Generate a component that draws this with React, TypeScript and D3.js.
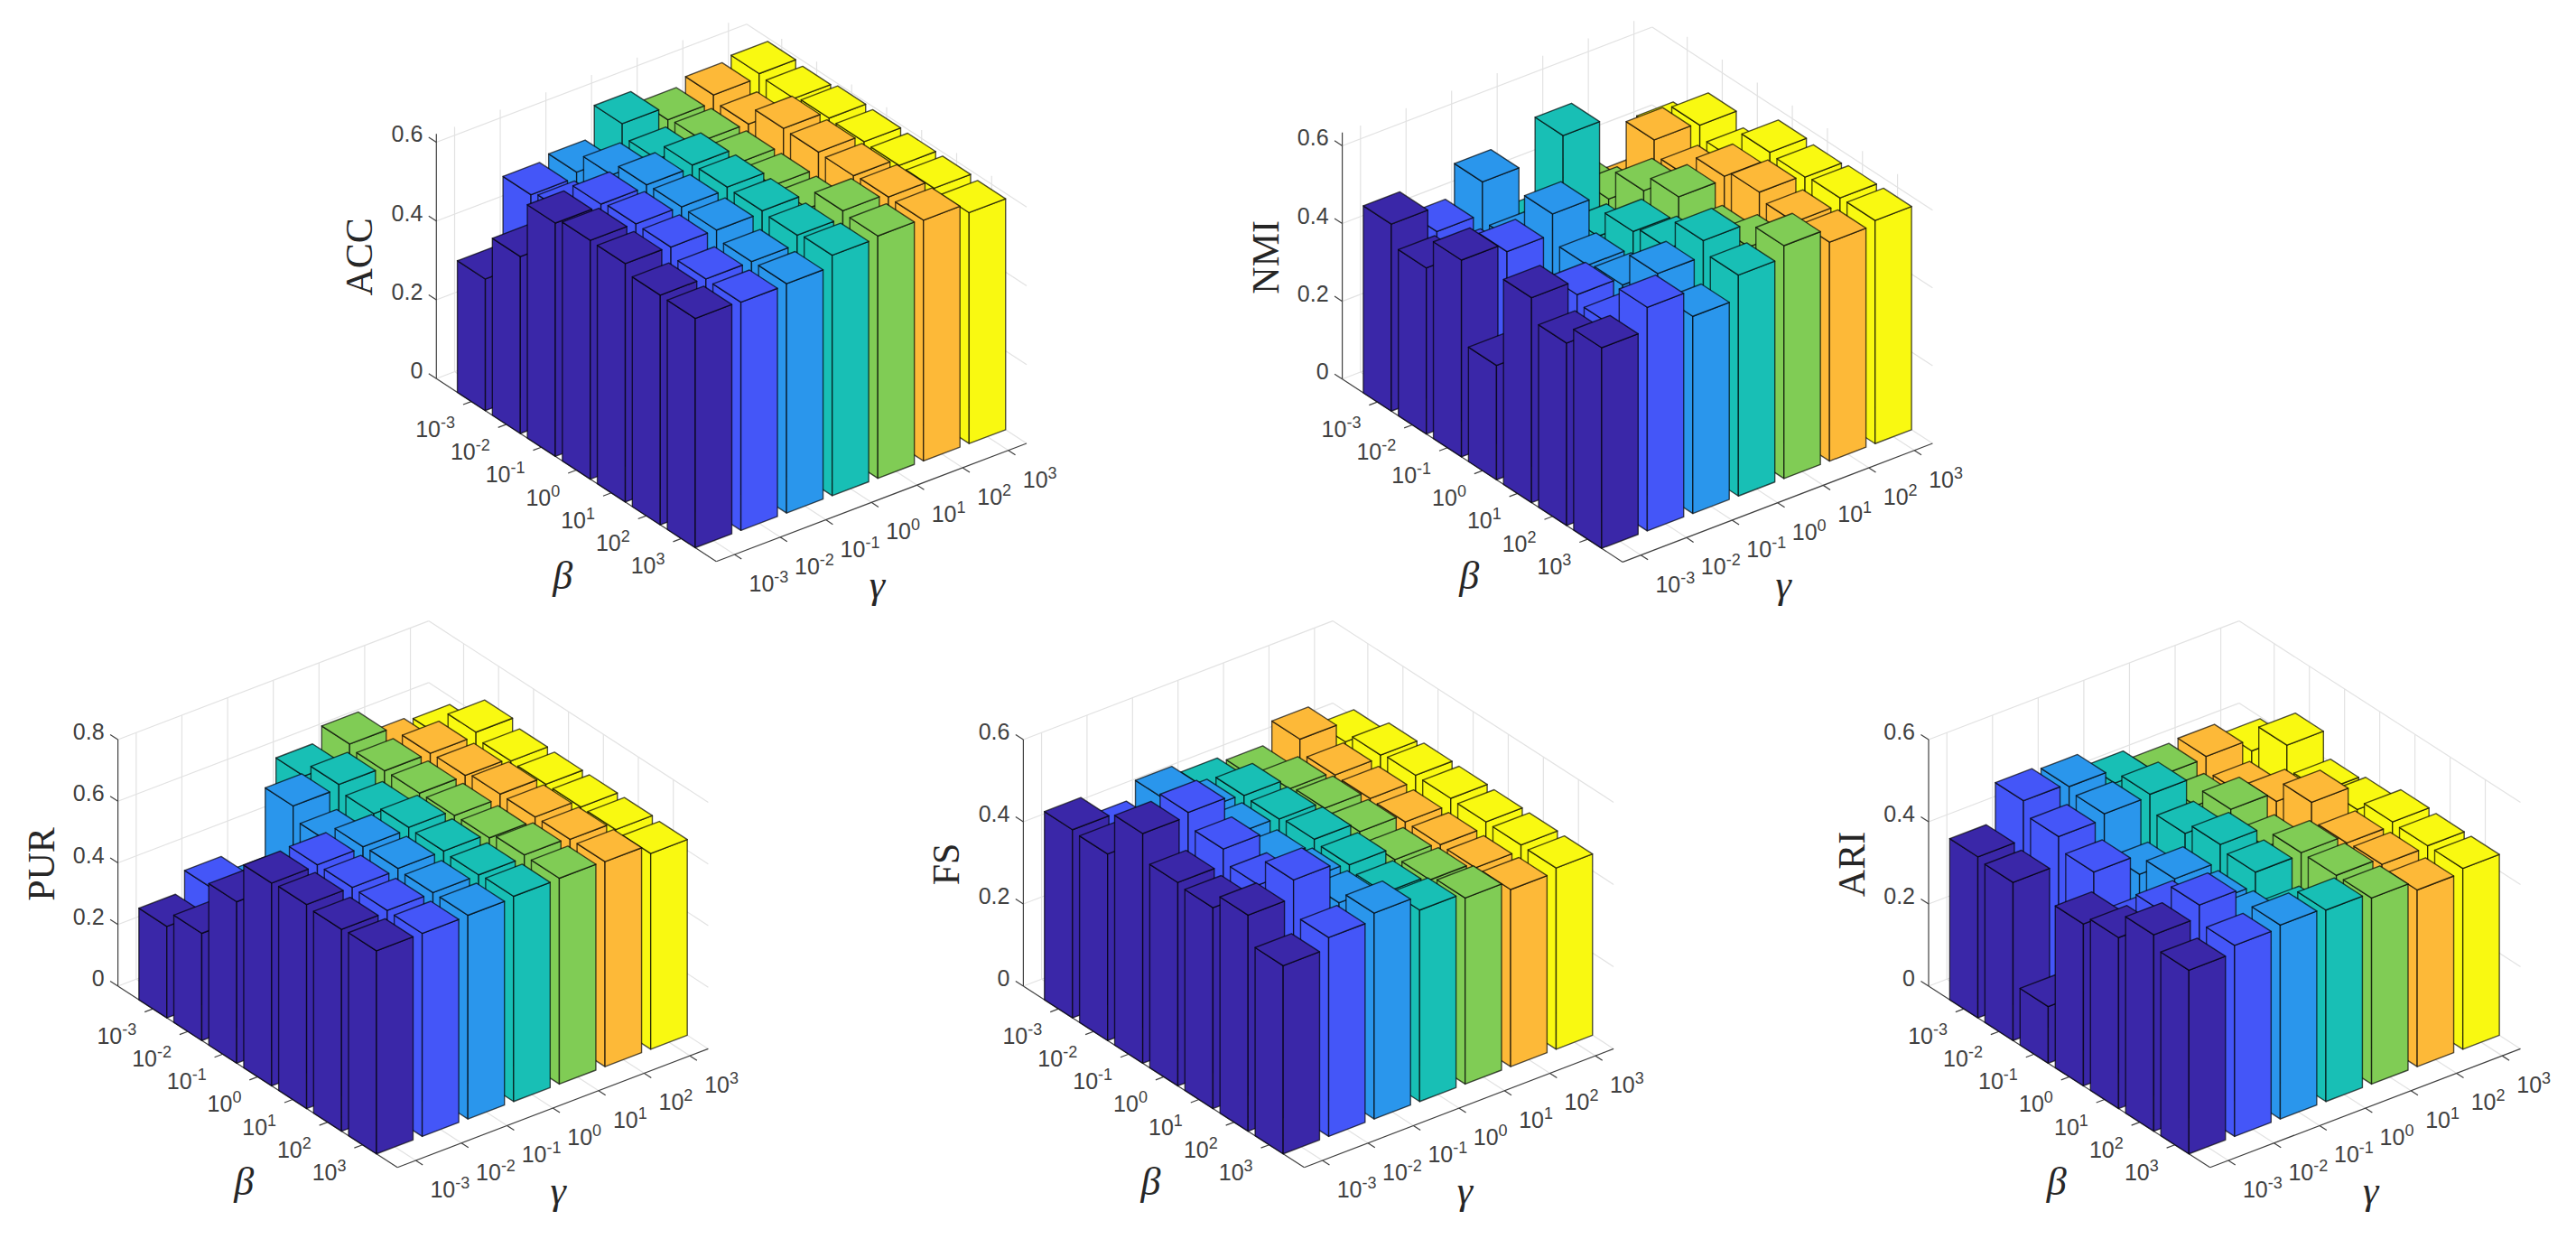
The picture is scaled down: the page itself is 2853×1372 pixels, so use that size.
import React, { useEffect, useRef } from "react"
import * as d3 from "d3"

// shared ticks and colours
const paramTicks = [1, 2, 3, 4, 5, 6, 7]
const paramExponents = ["-3", "-2", "-1", "0", "1", "2", "3"]
const gammaColors = ["#3A27A8", "#4456F8", "#2A96EC", "#18BFB5", "#80CC55", "#FDB938", "#F9F911"]

// bar heights, one row per gamma, one entry per beta
const accValues = [
	[0.334, 0.449, 0.592, 0.606, 0.605, 0.583, 0.582],
	[0.504, 0.515, 0.596, 0.604, 0.603, 0.58, 0.579],
	[0.517, 0.568, 0.601, 0.603, 0.602, 0.58, 0.582],
	[0.596, 0.564, 0.607, 0.609, 0.607, 0.603, 0.61],
	[0.562, 0.567, 0.568, 0.569, 0.569, 0.621, 0.615],
	[0.581, 0.565, 0.612, 0.61, 0.608, 0.612, 0.611],
	[0.591, 0.586, 0.594, 0.592, 0.59, 0.59, 0.586],
]
const nmiValues = [
	[0.481, 0.427, 0.506, 0.294, 0.527, 0.469, 0.516],
	[0.417, 0.4, 0.483, 0.38, 0.49, 0.469, 0.575],
	[0.5, 0.4, 0.535, 0.462, 0.47, 0.558, 0.507],
	[0.34, 0.633, 0.433, 0.504, 0.519, 0.598, 0.568],
	[0.405, 0.425, 0.505, 0.548, 0.502, 0.537, 0.599],
	[0.34, 0.532, 0.494, 0.556, 0.574, 0.556, 0.563],
	[0.443, 0.525, 0.494, 0.573, 0.568, 0.573, 0.574],
]
const purValues = [
	[0.297, 0.348, 0.524, 0.658, 0.662, 0.655, 0.659],
	[0.363, 0.34, 0.49, 0.661, 0.661, 0.66, 0.659],
	[0.308, 0.648, 0.606, 0.663, 0.666, 0.661, 0.661],
	[0.615, 0.661, 0.64, 0.669, 0.666, 0.662, 0.666],
	[0.662, 0.649, 0.65, 0.651, 0.652, 0.67, 0.668],
	[0.584, 0.649, 0.651, 0.664, 0.663, 0.664, 0.665],
	[0.573, 0.661, 0.641, 0.639, 0.639, 0.639, 0.635],
]
const fsValues = [
	[0.458, 0.454, 0.559, 0.495, 0.489, 0.526, 0.458],
	[0.407, 0.44, 0.568, 0.534, 0.502, 0.569, 0.484],
	[0.449, 0.473, 0.471, 0.46, 0.471, 0.471, 0.501],
	[0.427, 0.469, 0.467, 0.473, 0.466, 0.453, 0.466],
	[0.414, 0.443, 0.451, 0.449, 0.436, 0.442, 0.453],
	[0.466, 0.434, 0.432, 0.43, 0.43, 0.429, 0.431],
	[0.417, 0.44, 0.446, 0.445, 0.443, 0.442, 0.441],
]
const ariValues = [
	[0.392, 0.385, 0.138, 0.394, 0.416, 0.478, 0.447],
	[0.486, 0.454, 0.423, 0.34, 0.434, 0.508, 0.465],
	[0.478, 0.467, 0.375, 0.419, 0.416, 0.422, 0.472],
	[0.444, 0.472, 0.432, 0.46, 0.448, 0.391, 0.466],
	[0.42, 0.402, 0.448, 0.412, 0.453, 0.453, 0.453],
	[0.424, 0.389, 0.425, 0.478, 0.434, 0.437, 0.43],
	[0.395, 0.464, 0.407, 0.418, 0.443, 0.44, 0.44],
]

const shortTicks = [0, 0.2, 0.4, 0.6]
const shortLabels = ["0", "0.2", "0.4", "0.6"]
const tallTicks = [0, 0.2, 0.4, 0.6, 0.8]
const tallLabels = ["0", "0.2", "0.4", "0.6", "0.8"]

type Panel = {
	title: string
	values: number[][]
	zTicks: number[]
	zLabels: string[]
	zMax: number
	left: [number, number]
	front: [number, number]
	right: [number, number]
	zTopPx: number // pixel height of zMax
}

const panels: Panel[] = [
	{ title: "ACC", values: accValues, zTicks: shortTicks, zLabels: shortLabels, zMax: 0.621, left: [483.3, 419.3], front: [793.3, 621.7], right: [1137, 491], zTopPx: 271 },
	{ title: "NMI", values: nmiValues, zTicks: shortTicks, zLabels: shortLabels, zMax: 0.634, left: [1486.6, 419.8], front: [1797.2, 622.4], right: [2140.4, 491], zTopPx: 273 },
	{ title: "PUR", values: purValues, zTicks: tallTicks, zLabels: tallLabels, zMax: 0.8, left: [130.6, 1092], front: [440.2, 1292.8], right: [784.4, 1161.4], zTopPx: 273 },
	{ title: "FS", values: fsValues, zTicks: shortTicks, zLabels: shortLabels, zMax: 0.6, left: [1133.4, 1092], front: [1444.5, 1292.8], right: [1787.1, 1161.4], zTopPx: 273 },
	{ title: "ARI", values: ariValues, zTicks: shortTicks, zLabels: shortLabels, zMax: 0.6, left: [2136, 1092], front: [2447.7, 1292.8], right: [2791.5, 1161.4], zTopPx: 273 },
]

const X_MIN = 0.6
const X_MAX = 7.4
const Y_MIN = 0
const Y_MAX = 8
const HALF_WIDTH = 0.4
const GRID = "#e2e2e2"
const AXIS = "#404040"
const TICK_TEXT = "#404040"
const SANS = "'Liberation Sans', Arial, sans-serif"
const SERIF = "'Liberation Serif', 'Times New Roman', serif"

const drawPanel = (svg: any, panel: Panel) => {
	const { left, front, right } = panel
	const xT = d3.scaleLinear().domain([X_MIN, X_MAX]).range([0, 1])
	const yT = d3.scaleLinear().domain([Y_MIN, Y_MAX]).range([0, 1])
	const zPx = d3.scaleLinear().domain([0, panel.zMax]).range([0, panel.zTopPx])

	// orthographic projection onto the three floor corners
	const project = (x: number, y: number, z: number): [number, number] => [
		left[0] + yT(y) * (front[0] - left[0]) + xT(x) * (right[0] - front[0]),
		left[1] + yT(y) * (front[1] - left[1]) + xT(x) * (right[1] - front[1]) - zPx(z),
	]
	const line = d3.line()
	const g = svg.append("g").attr("class", `panel-${panel.title}`)

	const segment = (a: [number, number], b: [number, number], color: string) =>
		g
			.append("path")
			.attr("d", line([a, b]))
			.attr("fill", "none")
			.attr("stroke", color)
			.attr("stroke-width", 1.2)

	// Grid on the two back walls and on the floor
	paramTicks.forEach(t => {
		segment(project(t, Y_MIN, 0), project(t, Y_MIN, panel.zMax), GRID)
		segment(project(X_MAX, t, 0), project(X_MAX, t, panel.zMax), GRID)
		segment(project(t, Y_MIN, 0), project(t, Y_MAX, 0), GRID)
		segment(project(X_MIN, t, 0), project(X_MAX, t, 0), GRID)
	})
	panel.zTicks.forEach(z => {
		segment(project(X_MIN, Y_MIN, z), project(X_MAX, Y_MIN, z), GRID)
		segment(project(X_MAX, Y_MIN, z), project(X_MAX, Y_MAX, z), GRID)
	})

	// Axes
	segment(project(X_MIN, Y_MIN, 0), project(X_MIN, Y_MIN, panel.zMax), AXIS)
	segment(project(X_MIN, Y_MIN, 0), project(X_MIN, Y_MAX, 0), AXIS)
	segment(project(X_MIN, Y_MAX, 0), project(X_MAX, Y_MAX, 0), AXIS)

	paramTicks.forEach((t, k) => {
		// beta ticks and labels
		const bp = project(X_MIN, t, 0)
		segment(bp, project(X_MIN - 0.18, t, 0), AXIS)
		const bText = g
			.append("text")
			.attr("x", bp[0] - 18)
			.attr("y", bp[1] + 39)
			.attr("text-anchor", "end")
			.attr("font-family", SANS)
			.attr("font-size", 25)
			.attr("fill", TICK_TEXT)
		bText.append("tspan").text("10")
		bText.append("tspan").attr("dy", -10).attr("font-size", 18).text(paramExponents[k])

		// gamma ticks and labels
		const gp = project(t, Y_MAX, 0)
		segment(gp, project(t, Y_MAX + 0.2, 0), AXIS)
		const gText = g
			.append("text")
			.attr("x", gp[0] + 16)
			.attr("y", gp[1] + 41)
			.attr("font-family", SANS)
			.attr("font-size", 25)
			.attr("fill", TICK_TEXT)
		gText.append("tspan").text("10")
		gText.append("tspan").attr("dy", -10).attr("font-size", 18).text(paramExponents[k])
	})

	panel.zTicks.forEach((z, k) => {
		const p = project(X_MIN, Y_MIN, z)
		segment(p, project(X_MIN, Y_MIN + 0.22, z).map((v, a) => 2 * p[a] - v) as [number, number], AXIS)
		g.append("text")
			.attr("x", p[0] - 15)
			.attr("y", p[1])
			.attr("text-anchor", "end")
			.attr("font-family", SANS)
			.attr("font-size", 25)
			.attr("fill", TICK_TEXT)
			.text(panel.zLabels[k])
	})

	// Bars, painted from the far corner to the near one
	const bars = d3
		.cross(d3.range(6, -1, -1), d3.range(0, 7))
		.map(([i, j]) => ({ i, j, value: panel.values[i][j] }))

	const face = (pts: [number, number][]) => line(pts) + "Z"

	g.selectAll("g.bar")
		.data(bars)
		.join("g")
		.attr("class", "bar")
		.attr("fill", (d: any) => gammaColors[d.i])
		.attr("stroke", "#000")
		.attr("stroke-opacity", 0.68)
		.attr("stroke-width", 1.4)
		.attr("stroke-linejoin", "round")
		.each(function (this: SVGGElement, d: any) {
			const x0 = paramTicks[d.i] - HALF_WIDTH
			const x1 = paramTicks[d.i] + HALF_WIDTH
			const y0 = paramTicks[d.j] - HALF_WIDTH
			const y1 = paramTicks[d.j] + HALF_WIDTH
			const h = d.value
			const faces = [
				[project(x0, y0, 0), project(x0, y1, 0), project(x0, y1, h), project(x0, y0, h)],
				[project(x0, y1, 0), project(x1, y1, 0), project(x1, y1, h), project(x0, y1, h)],
				[project(x0, y0, h), project(x0, y1, h), project(x1, y1, h), project(x1, y0, h)],
			]
			d3.select(this)
				.selectAll("path")
				.data(faces)
				.join("path")
				.attr("d", face as any)
		})

	// Axis titles
	g.append("text")
		.attr("transform", `translate(${left[0] - 71},${left[1] - 135}) rotate(-90)`)
		.attr("text-anchor", "middle")
		.attr("font-family", SERIF)
		.attr("font-size", 42)
		.attr("fill", "#262626")
		.text(panel.title)
	g.append("text")
		.attr("x", front[0] - 170)
		.attr("y", front[1] + 30)
		.attr("text-anchor", "middle")
		.attr("font-family", SERIF)
		.attr("font-style", "italic")
		.attr("font-size", 44)
		.attr("fill", "#262626")
		.text("β")
	g.append("text")
		.attr("x", front[0] + 178)
		.attr("y", front[1] + 40)
		.attr("text-anchor", "middle")
		.attr("font-family", SERIF)
		.attr("font-style", "italic")
		.attr("font-size", 44)
		.attr("fill", "#262626")
		.text("γ")
}

const App = () => {
	const ref = useRef<SVGSVGElement>(null)

	useEffect(() => {
		const svg = d3.select(ref.current)
		svg.selectAll("*").remove()
		panels.forEach(panel => drawPanel(svg, panel))
	}, [])

	return (
		<svg
			ref={ref}
			width={2853}
			height={1372}
			style={{ position: "absolute", left: 0, top: 0, background: "#fff" }}
		/>
	)
}

export default App
